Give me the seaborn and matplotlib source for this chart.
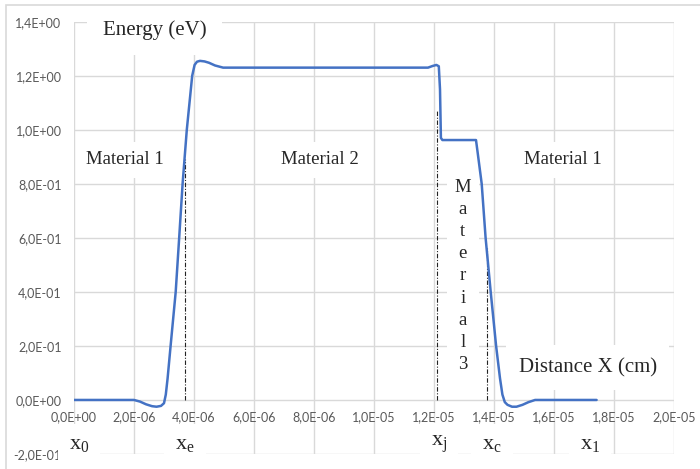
import numpy as np
import pandas as pd
import matplotlib
matplotlib.use("Agg")
import matplotlib.pyplot as plt
from matplotlib.patches import Rectangle
from matplotlib.ticker import FuncFormatter, MultipleLocator
import seaborn as sns

# ---- data (x in micro-units of cm, scaled below) ----
distance_um = [0.0, 2.0, 2.2, 2.4, 2.6, 2.75, 2.9, 3.0, 3.06, 3.12, 3.22, 3.39, 3.5,
               3.62, 3.76, 3.94, 4.02, 4.1, 4.2, 4.35, 4.5, 4.7, 4.97, 8.0, 11.8,
               11.95, 12.08, 12.16, 12.2, 12.23, 12.28, 13.0, 13.4, 13.45, 13.59,
               13.72, 13.89, 14.07, 14.2, 14.28, 14.36, 14.45, 14.6, 14.75, 14.95,
               15.15, 15.37, 16.0, 17.42]
energy_ev = [0.0, 0.0, -0.006, -0.016, -0.023, -0.025, -0.022, -0.012, 0.02, 0.08,
             0.2, 0.4, 0.59, 0.8, 1.0, 1.2, 1.24, 1.252, 1.255, 1.253, 1.248, 1.238,
             1.23, 1.23, 1.23, 1.236, 1.24, 1.235, 1.15, 0.97, 0.962, 0.962, 0.962,
             0.92, 0.8, 0.6, 0.4, 0.2, 0.08, 0.02, -0.008, -0.018, -0.025, -0.025,
             -0.018, -0.008, 0.0, 0.0, 0.0]

boundary_names = ["xe", "xj", "xc"]
boundary_x_um = [3.7, 12.1, 13.76]
boundary_top = [0.89, 1.07, 0.564]

df = pd.DataFrame({"x": np.array(distance_um) * 1e-6, "E": energy_ev})

# ---- style ----
sns.set_style("white")
plt.rcParams["font.family"] = ["Liberation Serif", "DejaVu Serif"]
plt.rcParams["mathtext.fontset"] = "custom"
plt.rcParams["mathtext.rm"] = "Liberation Serif"
plt.rcParams["mathtext.it"] = "Liberation Serif:italic"

W, H = 700, 469
fig = plt.figure(figsize=(W / 100, H / 100), dpi=100)
ax = fig.add_axes([74 / W, 1 - 454 / H, 600 / W, (454 - 21.7) / H])

# outer chart border (only top/left visible)
fig.add_artist(Rectangle((6 / W, -0.5), 2, 0.5 + 1 - 5 / H, transform=fig.transFigure,
                         fill=False, edgecolor="#d9d9d9", lw=1.2))

sns.lineplot(data=df, x="x", y="E", ax=ax, sort=False, estimator=None,
             color="#4472C4", lw=1.8, zorder=5)

for bx, bt in zip(boundary_x_um, boundary_top):
    ax.plot([bx * 1e-6, bx * 1e-6], [0, bt], color="#222222", lw=0.8,
            linestyle=(0, (4, 1.5, 1, 1.5)), zorder=4)

ax.set_xlim(0, 2e-5)
ax.set_ylim(-0.2, 1.4)
ax.xaxis.set_major_locator(MultipleLocator(2e-6))
ax.yaxis.set_major_locator(MultipleLocator(0.2))
fmt = FuncFormatter(lambda v, p: f"{v:.1E}".replace(".", ",").replace("-0,0", "0,0"))
ax.xaxis.set_major_formatter(fmt)
ax.yaxis.set_major_formatter(fmt)
ax.grid(True, color="#d9d9d9", lw=1.0, zorder=0)
ax.set_axisbelow(True)
for s in ax.spines.values():
    s.set_visible(False)
ax.spines["bottom"].set_position(("data", 0))
ax.tick_params(axis="both", length=0, labelcolor="#595959")
ax.tick_params(axis="y", pad=9)
ax.tick_params(axis="x", pad=8)
for lab in ax.get_xticklabels() + ax.get_yticklabels():
    lab.set_fontfamily("Lato")
    lab.set_fontsize(9)
ax.set_xlabel("")
ax.set_ylabel("")

box = dict(facecolor="white", edgecolor="none", boxstyle="square,pad=0.5")

ax.text(2.68e-6, 1.37, "Energy (eV)", fontsize=15, ha="center", va="center",
        bbox=dict(facecolor="white", edgecolor="none", boxstyle="square,pad=0.75"), zorder=3)
ax.text(1.7e-6, 0.889, "Material 1", fontsize=13.5, ha="center", va="center", bbox=box, zorder=3)
ax.text(8.2e-6, 0.889, "Material 2", fontsize=13.5, ha="center", va="center", bbox=box, zorder=3)
ax.text(16.28e-6, 0.889, "Material 1", fontsize=13.5, ha="center", va="center", bbox=box, zorder=3)
ax.text(12.96e-6, 0.459, "\n".join("Material3"), fontsize=13.5, ha="center", va="center",
        linespacing=1.4, bbox=dict(facecolor="white", edgecolor="none", boxstyle="square,pad=0.4"),
        zorder=3)
ax.text(17.13e-6, 0.12, "Distance X (cm)", fontsize=15, ha="center", va="center",
        bbox=dict(facecolor="white", edgecolor="none", boxstyle="square,pad=0.6"), zorder=3)

xlabs = [r"$\mathrm{x_0}$", r"$\mathrm{x_e}$", r"$\mathrm{x_j}$", r"$\mathrm{x_c}$", r"$\mathrm{x_1}$"]
xpos = [0.17e-6, 3.7e-6, 12.17e-6, 13.92e-6, 17.2e-6]
for t, xp in zip(xlabs, xpos):
    ax.text(xp, -0.165, t, fontsize=16, ha="center", va="center",
            bbox=dict(facecolor="white", edgecolor="none", boxstyle="square,pad=0.5"), zorder=3)

fig.savefig("out.png", dpi=100)
